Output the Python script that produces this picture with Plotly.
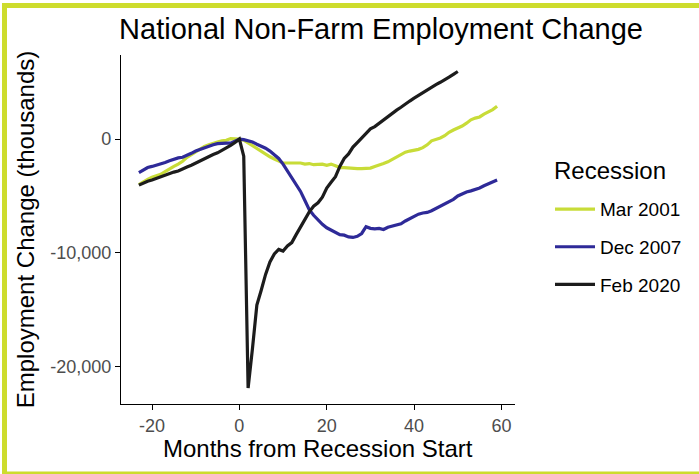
import plotly.graph_objects as go

# ---- data (thousands of jobs, relative to recession start month) ----
months_2001 = list(range(-23, 60))
emp_2001 = [
    -4000, -3750, -3550, -3350, -3250, -3100, -2850, -2600, -2400, -2200,
    -1950, -1600, -1350, -1100, -850, -650, -500, -350, -250, -150,
    -100, 50, 50, 0, -100, -350, -550, -850, -1100, -1350,
    -1550, -1750, -1950, -2100, -2100, -2100, -2150, -2100, -2200, -2150,
    -2250, -2200, -2200, -2300, -2200, -2350, -2500, -2500, -2550, -2550,
    -2600, -2600, -2600, -2550, -2400, -2300, -2150, -2000, -1800, -1550,
    -1350, -1150, -1050, -1000, -900, -750, -500, -150, -50, 100,
    300, 600, 800, 950, 1150, 1400, 1700, 1850, 1950, 2200,
    2400, 2600, 2900,
]

months_2007 = list(range(-23, 60))
emp_2007 = [
    -2950, -2700, -2500, -2400, -2300, -2150, -2050, -1900, -1750, -1650,
    -1600, -1450, -1250, -1050, -900, -750, -600, -500, -400, -350,
    -350, -350, -200, 0, -50, -150, -250, -450, -600, -800,
    -1050, -1350, -1700, -2200, -2800, -3300, -3900, -4600, -5400, -6200,
    -6700, -7150, -7500, -7800, -8000, -8200, -8400, -8450, -8600, -8650,
    -8550, -8300, -7700, -7850, -7900, -7850, -7950, -7750, -7650, -7600,
    -7450, -7200, -7000, -6850, -6600, -6500, -6450, -6300, -6100, -5900,
    -5700, -5500, -5300, -5000, -4800, -4650, -4550, -4450, -4300, -4100,
    -3950, -3800, -3600,
]

months_2020 = list(range(-23, 51))
emp_2020 = [
    -4050, -3850, -3700, -3600, -3450, -3350, -3200, -3050, -2900, -2800,
    -2600, -2450, -2300, -2100, -1900, -1750, -1550, -1350, -1200, -1000,
    -800, -550, -300, 0, -1500, -21900, -18400, -14600, -13300, -11900,
    -10800, -10100, -9700, -9850, -9400, -9100, -8400, -7700, -7000, -6400,
    -5900, -5600, -5100, -4300, -3800, -3300, -2400, -1700, -1300, -700,
    -300, 100, 600, 900, 1100, 1400, 1700, 2000, 2250, 2550,
    2800, 3100, 3350, 3600, 3850, 4100, 4350, 4550, 4800, 5000,
    5200, 5450, 5700, 5950,
]

series_names = ["Mar 2001", "Dec 2007", "Feb 2020"]
series_colors = ["#c8dc38", "#2e2a98", "#1c1c1c"]
legend_title = "Recession"
x_title = "Months from Recession Start"
y_title = "Employment Change (thousands)"

x_tick_vals = [-20, 0, 20, 40, 60]
x_tick_text = ["-20", "0", "20", "40", "60"]
y_tick_vals = [-20000, -10000, 0]
y_tick_text = ["-20,000", "-10,000", "0"]

FONT = "Liberation Sans, Arial, sans-serif"

fig = go.Figure()
for name, xs, ys, col in zip(series_names,
                             [months_2001, months_2007, months_2020],
                             [emp_2001, emp_2007, emp_2020],
                             series_colors):
    fig.add_trace(go.Scatter(
        x=xs, y=ys, mode="lines", name=name, legendgroup=name,
        line=dict(color=col, width=3.2),
    ))

axis_common = dict(
    showgrid=False, zeroline=False, showline=True, linecolor="black",
    linewidth=1.3, ticks="outside", ticklen=5, tickcolor="black",
    tickwidth=1.3, tickfont=dict(family=FONT, size=18, color="#4d4d4d"),
    tickmode="array",
)

L, T, W, H = 121, 55, 394, 348.5

fig.update_layout(
    width=699, height=474,
    paper_bgcolor="white", plot_bgcolor="white",
    margin=dict(l=121, r=184, t=55, b=70),
    font=dict(family=FONT, color="black"),
    title=dict(text="National Non-Farm Employment Change",
               font=dict(family=FONT, size=29, color="black"),
               x=381 / 699, xanchor="center", y=1 - 29 / 474, yanchor="middle"),
    xaxis=dict(range=[-27.1, 63.1], tickvals=x_tick_vals, ticktext=x_tick_text,
               **axis_common),
    yaxis=dict(range=[-23300, 7400], tickvals=y_tick_vals, ticktext=y_tick_text,
               title=dict(text=y_title,
                          font=dict(family=FONT, size=24, color="black"),
                          standoff=8),
               **axis_common),
    legend=dict(
        x=(550 - L) / W, xanchor="left", y=(T + H - 190) / H, yanchor="top",
        font=dict(family=FONT, size=19, color="black"),
        tracegroupgap=10, itemwidth=40, bgcolor="rgba(0,0,0,0)",
    ),
    annotations=[
        dict(text=legend_title, xref="paper", yref="paper",
             x=(552 - L) / W, xanchor="left", y=(T + H - 170) / H, yanchor="middle",
             showarrow=False, font=dict(family=FONT, size=24, color="black")),
        dict(text=x_title, xref="paper", yref="paper",
             x=0.5, xanchor="center", y=(T + H - 448) / H, yanchor="middle",
             showarrow=False, font=dict(family=FONT, size=24, color="black")),
    ],
    shapes=[dict(
        type="rect", xref="paper", yref="paper",
        x0=(4.5 - L) / W, x1=(702 - L) / W,
        y0=(T + H - 473.5) / H, y1=(T + H - 5.5) / H,
        line=dict(color="#cddc2d", width=5), fillcolor="rgba(0,0,0,0)",
        layer="below",
    )],
)

fig.write_html("out.html", config={"displayModeBar": False},
               post_script="document.body.style.margin='0px';document.body.style.overflow='hidden';")
